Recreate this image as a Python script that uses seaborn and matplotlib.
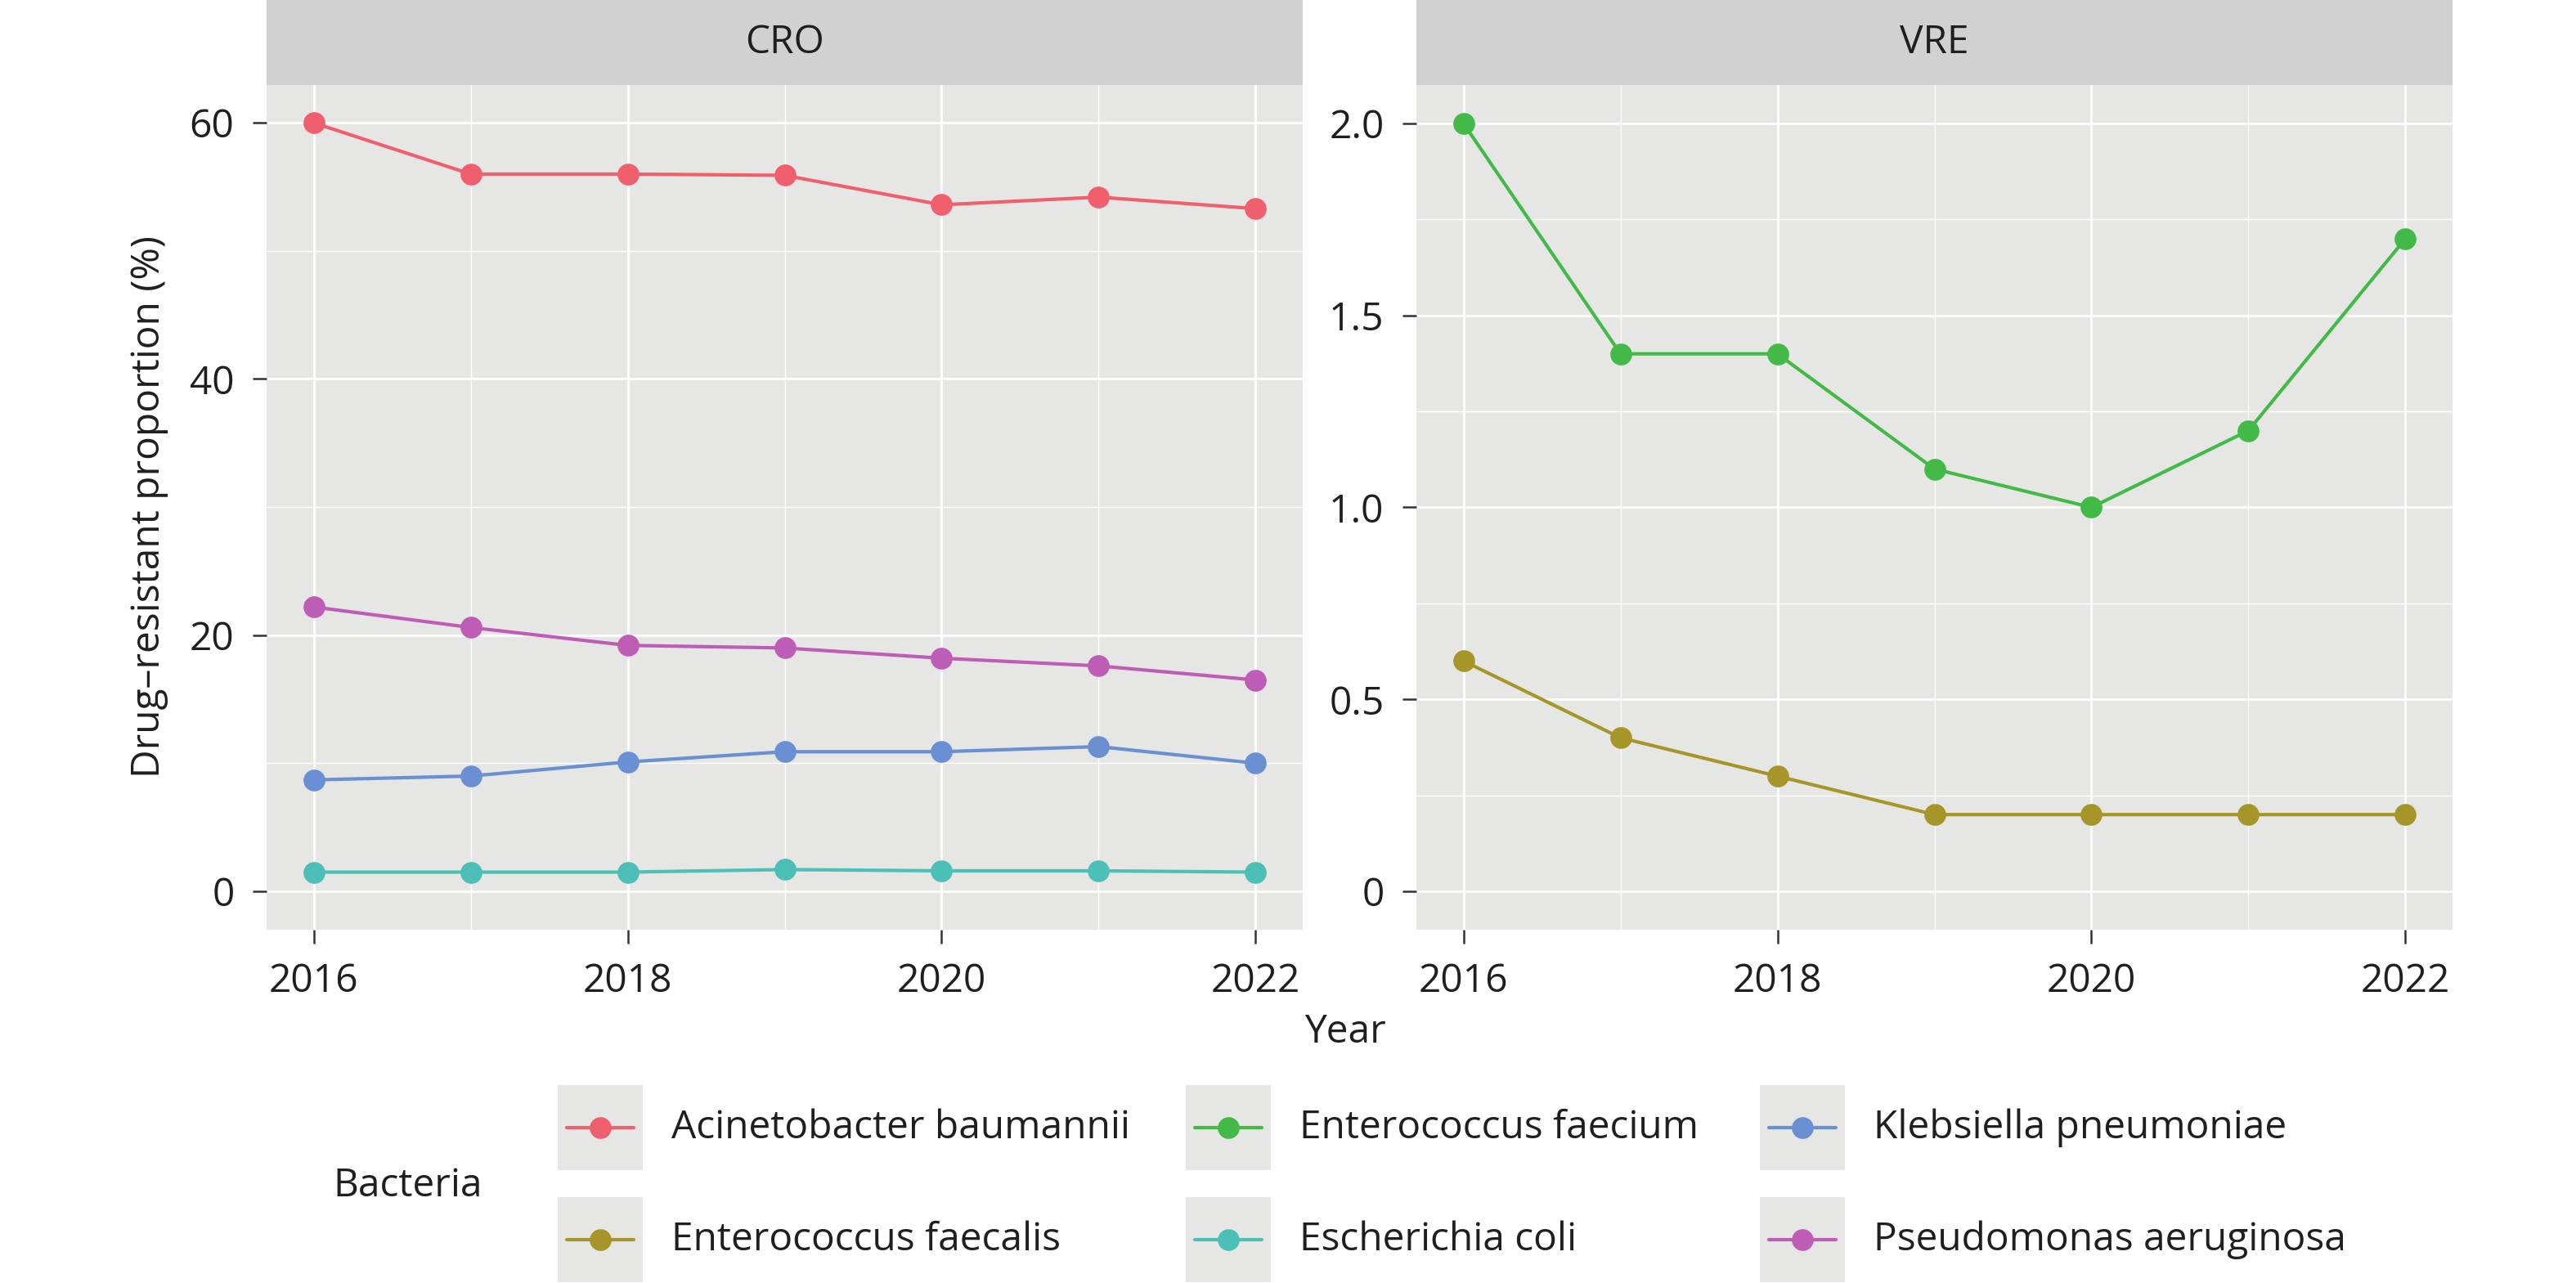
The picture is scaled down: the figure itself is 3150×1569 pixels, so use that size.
import matplotlib
matplotlib.use("Agg")
import matplotlib.pyplot as plt
from matplotlib.patches import Rectangle
from matplotlib.lines import Line2D
from matplotlib.ticker import FixedLocator
import numpy as np
import pandas as pd
import seaborn as sns

# ---------------- data ----------------
years = [2016, 2017, 2018, 2019, 2020, 2021, 2022]

cro_acinetobacter = [60.0, 56.0, 56.0, 55.9, 53.6, 54.2, 53.3]
cro_pseudomonas = [22.2, 20.6, 19.2, 19.0, 18.2, 17.6, 16.5]
cro_klebsiella = [8.7, 9.0, 10.1, 10.9, 10.9, 11.3, 10.0]
cro_ecoli = [1.5, 1.5, 1.5, 1.7, 1.6, 1.6, 1.5]

vre_faecium = [2.0, 1.4, 1.4, 1.1, 1.0, 1.2, 1.7]
vre_faecalis = [0.6, 0.4, 0.3, 0.2, 0.2, 0.2, 0.2]

bacteria_order = ["Acinetobacter baumannii", "Enterococcus faecalis", "Enterococcus faecium",
                  "Escherichia coli", "Klebsiella pneumoniae", "Pseudomonas aeruginosa"]
bacteria_colors = ["#EF5F6E", "#A6962A", "#43B947", "#4CBFB6", "#6A8FD3", "#BE5DB6"]

panels = ["CRO", "VRE"]
cro_yticks = [0, 20, 40, 60]
cro_yticklabels = ["0", "20", "40", "60"]
vre_yticks = [0, 0.5, 1.0, 1.5, 2.0]
vre_yticklabels = ["0", "0.5", "1.0", "1.5", "2.0"]
xticks = [2016, 2018, 2020, 2022]
xticklabels = ["2016", "2018", "2020", "2022"]

series = {
    "CRO": {"Acinetobacter baumannii": cro_acinetobacter,
            "Pseudomonas aeruginosa": cro_pseudomonas,
            "Klebsiella pneumoniae": cro_klebsiella,
            "Escherichia coli": cro_ecoli},
    "VRE": {"Enterococcus faecium": vre_faecium,
            "Enterococcus faecalis": vre_faecalis},
}
rows = []
for p, d in series.items():
    for b, vals in d.items():
        for y, v in zip(years, vals):
            rows.append({"Panel": p, "Bacteria": b, "Year": y, "Value": v})
df = pd.DataFrame(rows)
palette = dict(zip(bacteria_order, bacteria_colors))

# ---------------- style ----------------
sns.set_theme(style="darkgrid")
FONT = ["Open Sans", "DejaVu Sans"]
plt.rcParams["font.family"] = FONT
FS = 11.5
TXT = "#1f1f1f"
PANEL_BG = "#E6E6E5"
STRIP_BG = "#D1D1D1"

W, H = 3150, 1569
DPI = 300
fig = plt.figure(figsize=(W / DPI, H / DPI), dpi=DPI)
fig.patch.set_facecolor("white")

def fx(px):
    return px / W

def fy(py):
    return 1 - py / H

panel_left = {"CRO": 326, "VRE": 1732}
panel_w = 1267
panel_top, panel_bot = 104, 1137
ylims = {"CRO": (-3.0, 62.95), "VRE": (-0.1, 2.1)}
yt = {"CRO": (cro_yticks, cro_yticklabels), "VRE": (vre_yticks, vre_yticklabels)}
yminor = {"CRO": [10, 30, 50], "VRE": [0.25, 0.75, 1.25, 1.75]}

for p in panels:
    x0 = panel_left[p]
    ax = fig.add_axes([fx(x0), fy(panel_bot), panel_w / W, (panel_bot - panel_top) / H])
    ax.set_facecolor(PANEL_BG)
    sub = df[df["Panel"] == p]
    sns.lineplot(data=sub, x="Year", y="Value", hue="Bacteria", palette=palette,
                 marker="o", markersize=6.4, markeredgewidth=0, linewidth=1.0,
                 legend=False, ax=ax, zorder=3)
    ax.set_xlim(2015.7, 2022.3)
    ax.set_ylim(*ylims[p])
    ax.set_xticks(xticks)
    ax.set_xticklabels(xticklabels)
    ax.set_yticks(yt[p][0])
    ax.set_yticklabels(yt[p][1])
    ax.xaxis.set_minor_locator(FixedLocator([2017, 2019, 2021]))
    ax.yaxis.set_minor_locator(FixedLocator(yminor[p]))
    ax.grid(which="major", color="white", linewidth=0.65)
    ax.grid(which="minor", color="white", linewidth=0.32)
    ax.set_axisbelow(True)
    for s in ax.spines.values():
        s.set_visible(False)
    ax.tick_params(which="major", length=4.0, width=0.6, color="#333333",
                   labelsize=FS, labelcolor=TXT, pad=5.5, bottom=True, left=True)
    ax.tick_params(which="minor", length=0)
    ax.set_xlabel("")
    ax.set_ylabel("")
    # strip
    sax = fig.add_axes([fx(x0), fy(panel_top), panel_w / W, panel_top / H])
    sax.set_facecolor(STRIP_BG)
    sax.set_xticks([]); sax.set_yticks([])
    sax.grid(False)
    for s in sax.spines.values():
        s.set_visible(False)
    sax.text(0.5, 0.5, p, ha="center", va="center", fontsize=FS, color=TXT,
             transform=sax.transAxes)

fig.text(fx(1645), fy(1262), "Year", ha="center", va="center", fontsize=FS, color=TXT)
fig.text(fx(182), fy(620), "Drug–resistant proportion (%)", ha="center", va="center",
         rotation=90, fontsize=FS, color=TXT)

# ---------------- legend ----------------
lax = fig.add_axes([0, 0, 1, 1], zorder=-1)
lax.set_xlim(0, W)
lax.set_ylim(H, 0)
lax.axis("off")
lax.patch.set_alpha(0)

lax.text(407, 1450, "Bacteria", ha="left", va="center", fontsize=FS, color=TXT)
col_key_x = [682, 1450, 2152]
row_y = [1379, 1516]
key = 104
# ggplot column-wise fill: 2 rows x 3 cols
for i, b in enumerate(bacteria_order):
    c, r = i // 2, i % 2
    kx, cy = col_key_x[c], row_y[r]
    lax.add_patch(Rectangle((kx, cy - key / 2), key, key, facecolor=PANEL_BG, edgecolor="none"))
    lax.add_line(Line2D([kx + 11, kx + key - 11], [cy, cy], color=palette[b], linewidth=1.0))
    lax.add_line(Line2D([kx + key / 2], [cy], color=palette[b], marker="o", markersize=6.4,
                        markeredgewidth=0, linestyle="none"))
    lax.text(kx + key + 35, cy, b, ha="left", va="center", fontsize=FS, color=TXT)

fig.savefig("out.png", dpi=DPI)
